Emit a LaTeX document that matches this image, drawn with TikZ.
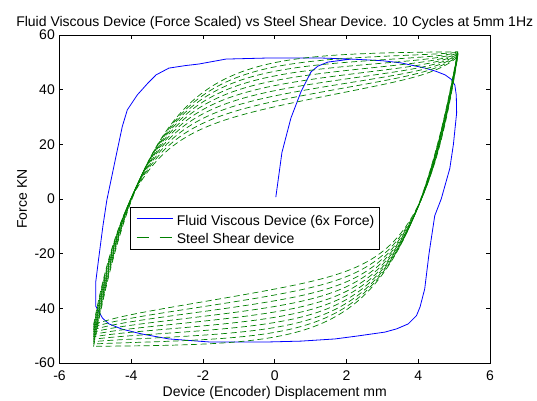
\documentclass[tikz,border=0pt]{standalone}
\usepackage{fontspec}
\setmainfont{Liberation Sans}
\definecolor{mblue}{RGB}{0,0,255}
\definecolor{mgreen}{RGB}{0,128,0}
\tikzset{
  axisline/.style={draw=black, line width=0.6pt},
  ticklbl/.style={inner sep=0pt},
  bluecurve/.style={draw=mblue, line width=0.8pt, line join=round},
  greencurve/.style={draw=mgreen, line width=0.7pt, dash pattern=on 6pt off 3.5pt},
  legline/.style={line width=0.8pt},
}
\begin{document}
\begin{tikzpicture}[x=35.875pt, y=2.733pt, font=\fontsize{14pt}{16pt}\selectfont]
\useasboundingbox (-274.75pt,-201pt) rectangle (262.25pt,199pt);
\fill[white] (-274.75pt,-201pt) rectangle (262.25pt,199pt);

% blue: fluid viscous device
\draw[bluecurve] plot coordinates {
 (0.03,0.7) (0.2,17) (0.45,29.6) (0.73,39.2) (1.01,46.5) (1.2,48.6) (1.48,50.1) (2.13,51.2)
 (3.0,50.6) (3.52,49.8) (4.19,47.9) (4.5,46.7) (4.75,45.4) (4.92,43.8) (5.02,41.7) (5.06,38) (5.07,31.5) (4.98,20) (4.88,11.2)
 (4.64,0) (4.46,-6.1) (4.3,-20) (4.18,-32.9) (4.05,-39.5) (3.95,-42.7) (3.72,-45.7) (3.4,-47.5) (3.07,-48.7)
 (2.32,-50.1) (1.68,-51.2) (0.73,-52.0) (-0.16,-52.3) (-1.83,-52.3)
 (-2.95,-51.2) (-3.70,-49.4) (-4.26,-47.6) (-4.62,-45.7) (-4.80,-43.6) (-4.90,-41.3)
 (-4.99,-39.2) (-4.99,-30.4) (-4.91,-22.0) (-4.79,-9.9) (-4.68,-0.4)
 (-4.40,17.2) (-4.25,26.5) (-4.11,32.6) (-3.83,38.1) (-3.55,42.2) (-3.31,45.4)
 (-2.95,47.9) (-2.5,48.8) (-2.11,49.4) (-1.36,51.2) (-0.16,51.6) (1.26,51.6)
 (2.13,51.2) (3.0,50.6)};

% green: steel shear device, 10 cycles
\foreach \k in {0,...,9}{
  \pgfmathsetmacro{\t}{\k/9}
  \pgfmathsetmacro{\Au}{108-40.4*\t}
  \pgfmathsetmacro{\cu}{1.545-0.525*\t}
  \pgfmathsetmacro{\Bu}{2.5*\t}
  \pgfmathsetmacro{\Du}{5*\t}
  \pgfmathsetmacro{\El}{54-8*\t}
  \pgfmathsetmacro{\Er}{54-2*\t}
  \pgfmathsetmacro{\Al}{108-34*\t}
  \pgfmathsetmacro{\cl}{1.49-0.58*\t}
  \pgfmathsetmacro{\Bl}{2.2*\t}
  \pgfmathsetmacro{\Dl}{1.7*\t}
  \draw[greencurve]
    plot[domain=0:10.15, samples=120, variable=\u]
      ({\u-5.05}, {-\El + \Au*(1-exp(-\u/\cu)) + \Bu*\u + \Du*exp((\u-10.15)/0.6)})
    -- plot[domain=0:10.15, samples=120, variable=\u]
      ({5.1-\u}, {\Er - \Al*(1-exp(-\u/\cl)) - \Bl*\u - \Dl*exp((\u-10.15)/0.6)});
}

% axes box and ticks
\draw[axisline] (-6,-60) rectangle (6,60);
\foreach \i [count=\n] in {-6,-4,...,6}{
  \draw[axisline] (\i,-60) -- ++(0,4pt);
  \draw[axisline] (\i,60) -- ++(0,-4pt);
  \node[ticklbl, anchor=base, yshift=-17.5pt] (xt\n) at (\i,-60) {\i};
}
\foreach \j [count=\n] in {-60,-40,...,60}{
  \draw[axisline] (-6,\j) -- ++(4pt,0);
  \draw[axisline] (6,\j) -- ++(-4pt,0);
  \node[ticklbl, anchor=east, xshift=-4.5pt] (yt\n) at (-6,\j) {\j};
}

% labels
\node[anchor=base] (title) at (0pt,173pt) {Fluid Viscous Device (Force Scaled) vs Steel Shear Device. 10 Cycles at 5mm 1Hz};
\node[anchor=base] (xlabel) at (0pt,-197pt) {Device (Encoder) Displacement mm};
\node[rotate=90, anchor=base] (ylabel) at (-247.75pt,0pt) {Force KN};

% legend
\node[draw=black, fill=white, line width=0.6pt, minimum width=249.3pt, minimum height=42pt, inner sep=0pt] (legbox) at (-20.1pt,-29.3pt) {};
\coordinate (lb1) at (-138.05pt,-19.3pt);
\coordinate (lb2) at (-101.45pt,-19.3pt);
\coordinate (lg1) at (-138.05pt,-38.3pt);
\coordinate (lg2) at (-101.45pt,-38.3pt);
\draw[legline, draw=mblue] (lb1) -- (lb2);
\draw[legline, draw=mgreen, dash pattern=on 12pt off 11pt] (lg1) -- (lg2);
\node[anchor=base west, inner sep=0pt] (legt1) at (-98.05pt,-26.7pt) {Fluid Viscous Device (6x Force)};
\node[anchor=base west, inner sep=0pt] (legt2) at (-98.05pt,-44.3pt) {Steel Shear device};
\end{tikzpicture}
\end{document}
